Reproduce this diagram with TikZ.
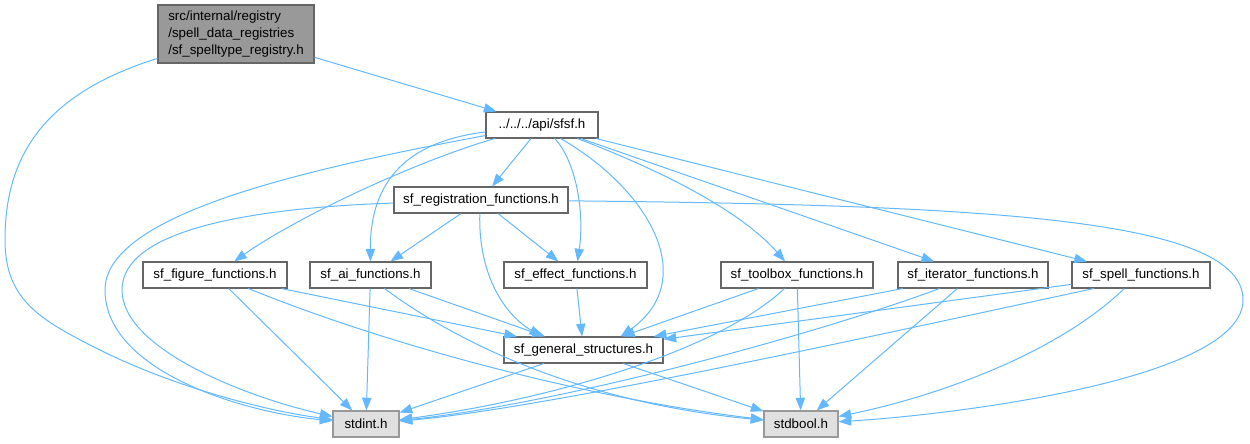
\documentclass[tikz,border=0pt]{standalone}
\usepackage{fontspec}
\setmainfont{Liberation Sans}
\usetikzlibrary{arrows.meta}
\definecolor{depblue}{HTML}{63B8FF}
\definecolor{fileborder}{HTML}{666666}
\definecolor{rootfill}{HTML}{999999}
\definecolor{sysfill}{HTML}{E0E0E0}
\definecolor{sysborder}{HTML}{999999}
\begin{document}
\begin{tikzpicture}[x=0.75pt,y=-0.75pt,
    file/.style={draw=fileborder,fill=white,line width=0.8pt,inner sep=0pt,
      minimum height=19.5pt,font=\fontsize{10}{12.75}\selectfont},
    sysfile/.style={file,draw=sysborder,fill=sysfill},
    dep/.style={color=depblue,line width=0.75pt,-{Triangle[length=9.5pt,width=7pt]}}]
            \useasboundingbox (0,0) rectangle (1250,443);
            \node[file,fill=rootfill,minimum width=117pt,minimum height=43.5pt,align=left] (root) at (236,34)
                {src/internal/registry\\/spell\_data\_registries\\/sf\_spelltype\_registry.h};
            \node[file,minimum width=84pt] (sfsf) at (542,125) {../../../api/sfsf.h};
            \node[file,minimum width=130.5pt] (reg) at (481,200) {sf\_registration\_functions.h};
            \node[file,minimum width=108pt] (figure) at (215,275) {sf\_figure\_functions.h};
            \node[file,minimum width=90.75pt] (ai) at (370.5,275) {sf\_ai\_functions.h};
            \node[file,minimum width=107.25pt] (effect) at (575.5,275) {sf\_effect\_functions.h};
            \node[file,minimum width=114pt] (toolbox) at (797,275) {sf\_toolbox\_functions.h};
            \node[file,minimum width=112.5pt] (iterator) at (973,275) {sf\_iterator\_functions.h};
            \node[file,minimum width=103.5pt] (spell) at (1141,275) {sf\_spell\_functions.h};
            \node[file,minimum width=119.25pt] (general) at (583.5,350) {sf\_general\_structures.h};
            \node[sysfile,minimum width=49.5pt] (stdint) at (366,424) {stdint.h};
            \node[sysfile,minimum width=55.5pt] (stdbool) at (801,424) {stdbool.h};
            \draw[dep] (root) edge (sfsf);
            \draw[dep] (root) .. controls (40,95) and (5,160) .. (5,240) .. controls (5,300) and (40,320) .. (100,350) .. controls (170,385) and (260,410) .. (stdint);
            \draw[dep] (sfsf) edge (reg);
            \draw[dep] (sfsf) .. controls (300,170) and (105,215) .. (105,290) .. controls (105,370) and (240,412) .. (stdint);
            \draw[dep] (sfsf) .. controls (420,160) and (300,215) .. (figure);
            \draw[dep] (sfsf) .. controls (420,140) and (370,170) .. (ai);
            \draw[dep] (sfsf) .. controls (575,160) and (585,210) .. (effect);
            \draw[dep] (sfsf.-36) .. controls (650,190) and (700,280) .. (general.20);
            \draw[dep] (sfsf) .. controls (660,170) and (740,210) .. (toolbox);
            \draw[dep] (sfsf) edge (iterator);
            \draw[dep] (sfsf) edge (spell);
            \draw[dep] (reg) .. controls (250,208) and (122,230) .. (122,290) .. controls (122,350) and (250,398) .. (stdint);
            \draw[dep] (reg) edge (ai);
            \draw[dep] (reg) edge (effect);
            \draw[dep] (reg.265) .. controls (478,275) and (505,315) .. (general.162);
            \draw[dep] (reg) .. controls (1000,205) and (1243,220) .. (1243,300) .. controls (1243,380) and (950,415) .. (stdbool);
            \draw[dep] (figure) edge (stdint);
            \draw[dep] (figure) edge (general);
            \draw[dep] (figure) .. controls (400,350) and (600,400) .. (stdbool);
            \draw[dep] (ai) edge (stdint);
            \draw[dep] (ai) edge (general);
            \draw[dep] (ai.-44) .. controls (440,330) and (560,400) .. (stdbool);
            \draw[dep] (effect) edge (general);
            \draw[dep] (general) edge (stdint);
            \draw[dep] (general) edge (stdbool);
            \draw[dep] (toolbox) edge (general);
            \draw[dep] (toolbox.-133) .. controls (720,350) and (550,400) .. (stdint);
            \draw[dep] (toolbox) edge (stdbool);
            \draw[dep] (iterator) edge (general);
            \draw[dep] (iterator.-158) .. controls (800,340) and (550,405) .. (stdint);
            \draw[dep] (iterator) edge (stdbool);
            \draw[dep] (spell) edge (general);
            \draw[dep] (spell.-164) .. controls (900,330) and (550,408) .. (stdint);
            \draw[dep] (spell.-141) .. controls (1050,360) and (920,400) .. (stdbool);
        \end{tikzpicture}
\end{document}
